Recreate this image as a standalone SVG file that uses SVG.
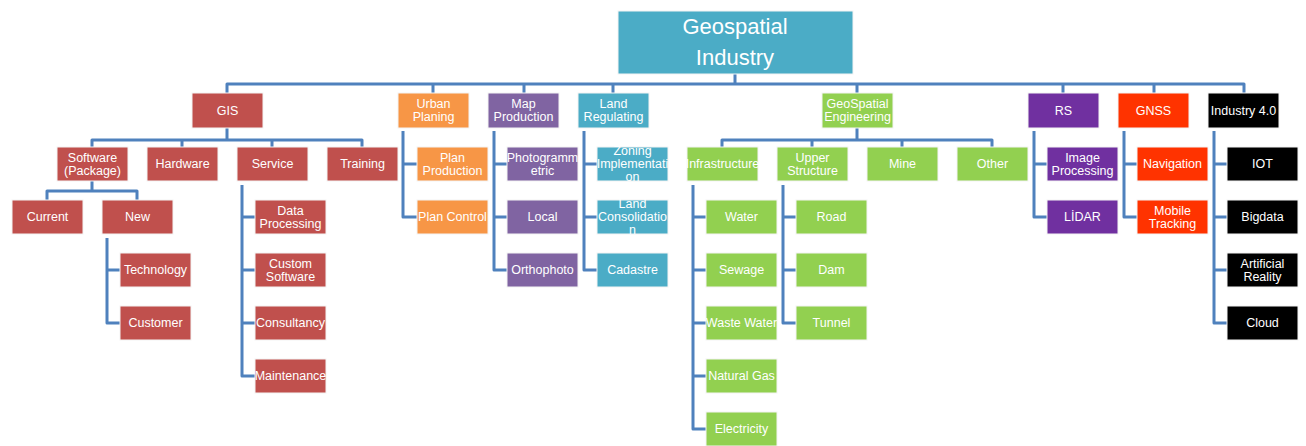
<svg xmlns="http://www.w3.org/2000/svg" width="1306" height="446" viewBox="0 0 1306 446">
<style>
.b{stroke:#f4f4f4;stroke-width:1}
.t{font-family:"Liberation Sans",Arial,sans-serif;font-size:12.5px;fill:#fff;text-anchor:middle;dominant-baseline:central}
.r{font-family:"Liberation Sans",Arial,sans-serif;font-size:22px;fill:#fff;text-anchor:middle;dominant-baseline:central}
.c{fill:none;stroke:#4F81BD;stroke-width:3;stroke-linejoin:round}
.red{fill:#C0504D}.org{fill:#F79646}.pur{fill:#8064A2}.tea{fill:#4BACC6}.grn{fill:#92D050}.vio{fill:#7030A0}.gns{fill:#FF3300}.blk{fill:#000}
</style>
<rect width="1306" height="446" fill="#fff"/>
<g id="connectors" class="c">
<path d="M735 74V84M227 93V84H1244V93M433 84V93M524 84V93M613 84V93M857 84V93M1063 84V93M1154 84V93"/>
<path d="M227 128V140M92 147V140H362V147M182 140V147M272 140V147"/>
<path d="M92 181V191M47 200V191H137V200"/>
<path d="M107 238V323H120M107 270H120"/>
<path d="M242 185V376H255M242 217H255M242 270H255M242 323H255"/>
<path d="M403 131V217H417M403 164H417"/>
<path d="M494 131V270H507M494 164H507M494 217H507"/>
<path d="M584 131V270H597M584 164H597M584 217H597"/>
<path d="M857 128V140M722 147V140H992V147M812 140V147M902 140V147"/>
<path d="M693 185V429H706M693 217H706M693 270H706M693 323H706M693 376H706"/>
<path d="M783 185V323H796M783 217H796M783 270H796"/>
<path d="M1034 131V217H1047M1034 164H1047"/>
<path d="M1124 131V217H1137M1124 164H1137"/>
<path d="M1214 131V323H1227M1214 164H1227M1214 217H1227M1214 270H1227"/>
</g>
<g id="root"><rect class="b tea" x="618" y="11" width="235" height="63"/><text class="r" x="735" y="26">Geospatial</text><text class="r" x="735" y="57">Industry</text></g>
<g id="gis"><rect class="b red" x="192" y="93" width="71" height="35"/><text class="t" x="227.5" y="110.5">GIS</text></g>
<g id="urban"><rect class="b org" x="398" y="93" width="71" height="35"/><text class="t" x="433.5" y="103.5">Urban</text><text class="t" x="433.5" y="116.5">Planing</text></g>
<g id="map"><rect class="b pur" x="488" y="93" width="71" height="35"/><text class="t" x="523.5" y="103.5">Map</text><text class="t" x="523.5" y="116.5">Production</text></g>
<g id="land"><rect class="b tea" x="578" y="93" width="71" height="35"/><text class="t" x="613.5" y="103.5">Land</text><text class="t" x="613.5" y="116.5">Regulating</text></g>
<g id="geoeng"><rect class="b grn" x="822" y="93" width="71" height="35"/><text class="t" x="857.5" y="103.5">GeoSpatial</text><text class="t" x="857.5" y="116.5">Engineering</text></g>
<g id="rs"><rect class="b vio" x="1028" y="93" width="71" height="35"/><text class="t" x="1063.5" y="110.5">RS</text></g>
<g id="gnss"><rect class="b gns" x="1118" y="93" width="71" height="35"/><text class="t" x="1153.5" y="110.5">GNSS</text></g>
<g id="industry"><rect class="b blk" x="1208" y="93" width="71" height="35"/><text class="t" x="1243.5" y="110.5">Industry 4.0</text></g>
<g id="software"><rect class="b red" x="57" y="147" width="71" height="34"/><text class="t" x="92.5" y="157.5">Software</text><text class="t" x="92.5" y="170.5">(Package)</text></g>
<g id="hardware"><rect class="b red" x="147" y="147" width="71" height="34"/><text class="t" x="182.5" y="164">Hardware</text></g>
<g id="service"><rect class="b red" x="237" y="147" width="71" height="34"/><text class="t" x="272.5" y="164">Service</text></g>
<g id="training"><rect class="b red" x="327" y="147" width="71" height="34"/><text class="t" x="362.5" y="164">Training</text></g>
<g id="current"><rect class="b red" x="12" y="200" width="71" height="34"/><text class="t" x="47.5" y="217">Current</text></g>
<g id="new"><rect class="b red" x="102" y="200" width="71" height="34"/><text class="t" x="137.5" y="217">New</text></g>
<g id="technology"><rect class="b red" x="120" y="253" width="71" height="34"/><text class="t" x="155.5" y="270">Technology</text></g>
<g id="customer"><rect class="b red" x="120" y="306" width="71" height="34"/><text class="t" x="155.5" y="323">Customer</text></g>
<g id="dataproc"><rect class="b red" x="255" y="200" width="71" height="34"/><text class="t" x="290.5" y="210.5">Data</text><text class="t" x="290.5" y="223.5">Processing</text></g>
<g id="customsw"><rect class="b red" x="255" y="253" width="71" height="34"/><text class="t" x="290.5" y="263.5">Custom</text><text class="t" x="290.5" y="276.5">Software</text></g>
<g id="consultancy"><rect class="b red" x="255" y="306" width="71" height="34"/><text class="t" x="290.5" y="323">Consultancy</text></g>
<g id="maintenance"><rect class="b red" x="255" y="359" width="71" height="34"/><text class="t" x="290.5" y="376">Maintenance</text></g>
<g id="planprod"><rect class="b org" x="417" y="147" width="71" height="34"/><text class="t" x="452.5" y="157.5">Plan</text><text class="t" x="452.5" y="170.5">Production</text></g>
<g id="plancontrol"><rect class="b org" x="417" y="200" width="71" height="34"/><text class="t" x="452.5" y="217">Plan Control</text></g>
<g id="photo"><rect class="b pur" x="507" y="147" width="71" height="34"/><text class="t" x="542.5" y="157.5">Photogramm</text><text class="t" x="542.5" y="170.5">etric</text></g>
<g id="local"><rect class="b pur" x="507" y="200" width="71" height="34"/><text class="t" x="542.5" y="217">Local</text></g>
<g id="ortho"><rect class="b pur" x="507" y="253" width="71" height="34"/><text class="t" x="542.5" y="270">Orthophoto</text></g>
<g id="zoning"><rect class="b tea" x="597" y="147" width="71" height="34"/><text class="t" x="632.5" y="151">Zoning</text><text class="t" x="632.5" y="164">Implementati</text><text class="t" x="632.5" y="177">on</text></g>
<g id="landcons"><rect class="b tea" x="597" y="200" width="71" height="34"/><text class="t" x="632.5" y="204">Land</text><text class="t" x="632.5" y="217">Consolidatio</text><text class="t" x="632.5" y="230">n</text></g>
<g id="cadastre"><rect class="b tea" x="597" y="253" width="71" height="34"/><text class="t" x="632.5" y="270">Cadastre</text></g>
<g id="infra"><rect class="b grn" x="687" y="147" width="71" height="34"/><text class="t" x="722.5" y="164">Infrastructure</text></g>
<g id="upper"><rect class="b grn" x="777" y="147" width="71" height="34"/><text class="t" x="812.5" y="157.5">Upper</text><text class="t" x="812.5" y="170.5">Structure</text></g>
<g id="mine"><rect class="b grn" x="867" y="147" width="71" height="34"/><text class="t" x="902.5" y="164">Mine</text></g>
<g id="other"><rect class="b grn" x="957" y="147" width="71" height="34"/><text class="t" x="992.5" y="164">Other</text></g>
<g id="water"><rect class="b grn" x="706" y="200" width="71" height="34"/><text class="t" x="741.5" y="217">Water</text></g>
<g id="sewage"><rect class="b grn" x="706" y="253" width="71" height="34"/><text class="t" x="741.5" y="270">Sewage</text></g>
<g id="wastewater"><rect class="b grn" x="706" y="306" width="71" height="34"/><text class="t" x="741.5" y="323">Waste Water</text></g>
<g id="naturalgas"><rect class="b grn" x="706" y="359" width="71" height="34"/><text class="t" x="741.5" y="376">Natural Gas</text></g>
<g id="electricity"><rect class="b grn" x="706" y="412" width="71" height="34"/><text class="t" x="741.5" y="429">Electricity</text></g>
<g id="road"><rect class="b grn" x="796" y="200" width="71" height="34"/><text class="t" x="831.5" y="217">Road</text></g>
<g id="dam"><rect class="b grn" x="796" y="253" width="71" height="34"/><text class="t" x="831.5" y="270">Dam</text></g>
<g id="tunnel"><rect class="b grn" x="796" y="306" width="71" height="34"/><text class="t" x="831.5" y="323">Tunnel</text></g>
<g id="imageproc"><rect class="b vio" x="1047" y="147" width="71" height="34"/><text class="t" x="1082.5" y="157.5">Image</text><text class="t" x="1082.5" y="170.5">Processing</text></g>
<g id="lidar"><rect class="b vio" x="1047" y="200" width="71" height="34"/><text class="t" x="1082.5" y="217">LİDAR</text></g>
<g id="navigation"><rect class="b gns" x="1137" y="147" width="71" height="34"/><text class="t" x="1172.5" y="164">Navigation</text></g>
<g id="mobile"><rect class="b gns" x="1137" y="200" width="71" height="34"/><text class="t" x="1172.5" y="210.5">Mobile</text><text class="t" x="1172.5" y="223.5">Tracking</text></g>
<g id="iot"><rect class="b blk" x="1227" y="147" width="71" height="34"/><text class="t" x="1262.5" y="164">IOT</text></g>
<g id="bigdata"><rect class="b blk" x="1227" y="200" width="71" height="34"/><text class="t" x="1262.5" y="217">Bigdata</text></g>
<g id="ar"><rect class="b blk" x="1227" y="253" width="71" height="34"/><text class="t" x="1262.5" y="263.5">Artificial</text><text class="t" x="1262.5" y="276.5">Reality</text></g>
<g id="cloud"><rect class="b blk" x="1227" y="306" width="71" height="34"/><text class="t" x="1262.5" y="323">Cloud</text></g>
</svg>
